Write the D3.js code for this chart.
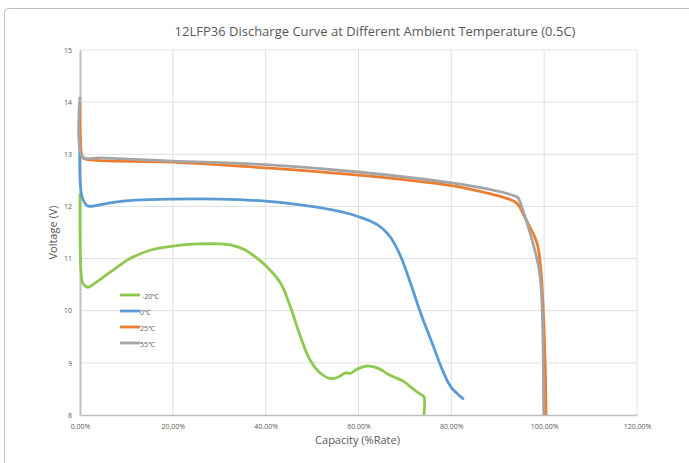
<!DOCTYPE html>
<html>
<head>
<meta charset="utf-8">
<script src="https://cdn.jsdelivr.net/npm/d3@7"></script>
<style>
  body { margin: 0; background: #fff; }
  text { font-family: "Open Sans", sans-serif; fill: #595959; }
</style>
</head>
<body>
<div id="vis"></div>
<script>
// capacity (%) / voltage (V)
var capM20 = [0, 0.2, 0.6, 1.7, 3.2, 6.5, 10.8, 15.1, 20, 26, 30, 33, 35.5, 37.5, 40.3, 43.2, 45.3, 47.5, 49.6, 51.8, 54, 55.7, 57.2, 58.3, 59.7, 61.9, 64.4, 66.2, 67.6, 69.8, 71.9, 73.5, 74.1, 74.1];
var voltM20 = [12.25, 10.78, 10.53, 10.45, 10.53, 10.74, 11.0, 11.16, 11.24, 11.28, 11.28, 11.25, 11.17, 11.05, 10.84, 10.53, 10.08, 9.5, 9.05, 8.8, 8.7, 8.73, 8.81, 8.8, 8.88, 8.94, 8.89, 8.79, 8.73, 8.64, 8.49, 8.39, 8.35, 8.0];

var cap0 = [0, 0.4, 1.5, 2.2, 6.5, 12, 20, 30, 40, 47.5, 54.6, 58, 60.4, 62.5, 64.2, 65.6, 66.9, 69.1, 71.2, 73.4, 75.9, 78.1, 79.9, 82.7];
var volt0 = [13.3, 12.2, 12.02, 12.0, 12.07, 12.12, 12.14, 12.14, 12.1, 12.03, 11.93, 11.86, 11.79, 11.72, 11.64, 11.54, 11.41, 11.04, 10.53, 9.95, 9.37, 8.86, 8.54, 8.3];

var cap25 = [0, 0.5, 1, 20, 40, 60, 80, 88, 91.7, 93.5, 94.5, 95.5, 96.7, 97.8, 98.6, 99.3, 99.7, 100.2, 100.4];
var volt25 = [14.0, 12.95, 12.91, 12.85, 12.74, 12.6, 12.4, 12.25, 12.16, 12.1, 12.02, 11.85, 11.64, 11.45, 11.25, 10.78, 10.2, 9.05, 8.0];

var cap55 = [0, 0.6, 4.3, 20, 40, 60, 80, 88, 93, 94.3, 95.4, 97.1, 98.3, 98.8, 99.3, 99.7, 99.9];
var volt55 = [14.1, 12.95, 12.93, 12.87, 12.8, 12.66, 12.45, 12.33, 12.22, 12.17, 11.93, 11.45, 11.05, 10.85, 10.5, 9.63, 8.0];

var seriesNames = ["-20\u2103", "0\u2103", "25\u2103", "55\u2103"];
var seriesColors = ["#8dc94f", "#5b9bd5", "#ed7d31", "#a5a5a5"];

var xTicks = [0, 20, 40, 60, 80, 100, 120];
var yTicks = [8, 9, 10, 11, 12, 13, 14, 15];

var W = 689, H = 463;
var margin = {top: 50, right: 52, bottom: 48, left: 80};
var width = W - margin.left - margin.right;
var height = H - margin.top - margin.bottom;

var svg = d3.select("#vis").append("svg")
    .attr("width", W)
    .attr("height", H);

// outer frame (only top and left edges visible)
svg.append("rect")
    .attr("x", 4.5).attr("y", 8.5)
    .attr("width", 700).attr("height", 480)
    .attr("rx", 4)
    .attr("fill", "none")
    .attr("stroke", "#bfbfbf");

svg.append("text")
    .attr("x", 375).attr("y", 36)
    .attr("text-anchor", "middle")
    .style("font-size", "13px")
    .text("12LFP36 Discharge Curve at Different Ambient Temperature (0.5C)");

var g = svg.append("g")
    .attr("transform", "translate(" + margin.left + "," + margin.top + ")");

var x = d3.scaleLinear().domain([0, 120]).range([0, width]);
var y = d3.scaleLinear().domain([8, 15]).range([height, 0]);

// gridlines
g.selectAll(".vgrid").data(xTicks.slice(1)).enter().append("line")
    .attr("x1", function(d) { return x(d); }).attr("x2", function(d) { return x(d); })
    .attr("y1", 0).attr("y2", height)
    .attr("stroke", "#e0e0e0");
g.selectAll(".hgrid").data(yTicks.slice(1)).enter().append("line")
    .attr("x1", 0).attr("x2", width)
    .attr("y1", function(d) { return y(d); }).attr("y2", function(d) { return y(d); })
    .attr("stroke", "#e0e0e0");

// axes
var xAxis = g.append("g")
    .attr("transform", "translate(0," + height + ")")
    .call(d3.axisBottom(x).tickValues(xTicks).tickSize(0).tickPadding(9)
      .tickFormat(function(d) { return d.toFixed(2) + "%"; }));
xAxis.select(".domain").attr("stroke", "#bfbfbf").attr("stroke-width", 1.3);
xAxis.selectAll("text").style("font-size", "7px").style("fill", "#595959");

var yAxis = g.append("g")
    .call(d3.axisLeft(y).tickValues(yTicks).tickSize(0).tickPadding(8)
      .tickFormat(d3.format("d")));
yAxis.select(".domain").attr("stroke", "#bfbfbf").attr("stroke-width", 2);
yAxis.selectAll("text").style("font-size", "7px").style("fill", "#595959");

svg.append("text")
    .attr("transform", "translate(57," + (margin.top + height / 2) + ") rotate(-90)")
    .attr("text-anchor", "middle")
    .style("font-size", "11px")
    .text("Voltage (V)");

svg.append("text")
    .attr("x", margin.left + x(60) - 1).attr("y", 444)
    .attr("text-anchor", "middle")
    .style("font-size", "11px")
    .text("Capacity (%Rate)");

// series
var caps = [capM20, cap0, cap25, cap55];
var volts = [voltM20, volt0, volt25, volt55];

var line = d3.line()
    .curve(d3.curveCatmullRom.alpha(0.5))
    .x(function(d) { return x(d[0]); })
    .y(function(d) { return y(d[1]); });

caps.forEach(function(c, i) {
  var pts = c.map(function(v, j) { return [v, volts[i][j]]; });
  g.append("path")
      .datum(pts)
      .attr("fill", "none")
      .attr("stroke", seriesColors[i])
      .attr("stroke-width", 2.8)
      .attr("stroke-linejoin", "round")
      .attr("d", line);
});

// legend
var legend = svg.append("g").attr("transform", "translate(120,295)");
seriesNames.forEach(function(name, i) {
  legend.append("line")
      .attr("x1", 0).attr("x2", 20)
      .attr("y1", i * 16).attr("y2", i * 16)
      .attr("stroke", seriesColors[i])
      .attr("stroke-width", 2.8);
  legend.append("text")
      .attr("x", i == 0 ? 22 : 20).attr("y", i * 16 + 4)
      .style("font-size", "7px")
      .text(name);
});
</script>
</body>
</html>
